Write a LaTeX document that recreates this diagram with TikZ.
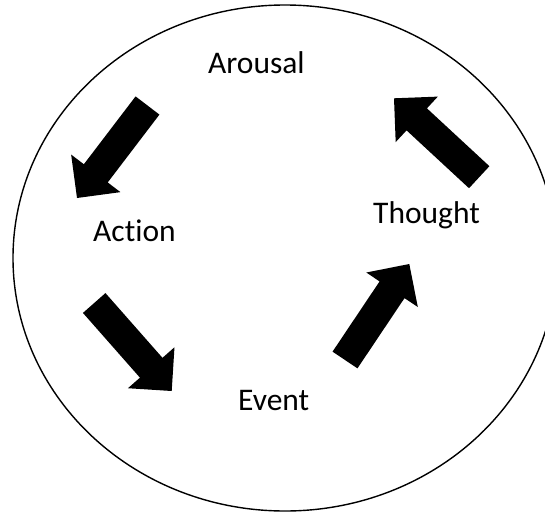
\documentclass[tikz,border=0pt]{standalone}
\usepackage{fontspec}
\setmainfont[Ligatures={NoCommon}]{Carlito}
\usetikzlibrary{calc}
\tikzset{
  lbl/.style={anchor=base west, inner sep=0pt, font=\fontsize{31.5}{36}\selectfont},
  ring/.style={draw=black, line width=1.4pt},
  blk/.style={fill=black}
}
\newcommand\blockarrow[1]{%
  \coordinate (#1-m) at ($(#1-h)!31pt!(#1-t)$);
  \fill[blk] ($(#1-t)!15pt!90:(#1-h)$) -- ($(#1-m)!15pt!90:(#1-h)$) --
    ($(#1-m)!31pt!90:(#1-h)$) -- (#1-h) -- ($(#1-m)!31pt!-90:(#1-h)$) --
    ($(#1-m)!15pt!-90:(#1-h)$) -- ($(#1-t)!15pt!-90:(#1-h)$) -- cycle;}
\begin{document}
\begin{tikzpicture}[x=1pt,y=-1pt]
\useasboundingbox (0,0) rectangle (545,511);
\clip (0,0) rectangle (545,511);
\fill[white] (0,0) rectangle (545,511);
\draw[ring] (285,258) ellipse [x radius=272, y radius=253];
\node[lbl] (arousal) at (208,74) {Arousal};
\node[lbl] (action) at (93,241) {Action};
\node[lbl] (thought) at (373,223) {Thought};
\node[lbl] (event) at (238,410) {Event};
\coordinate (a1-t) at (147.5,105.5); \coordinate (a1-h) at (77,198);
\coordinate (a2-t) at (94.2,303);    \coordinate (a2-h) at (171.7,391);
\coordinate (a3-t) at (345,360);     \coordinate (a3-h) at (409.3,264);
\coordinate (a4-t) at (479.2,177.2); \coordinate (a4-h) at (394,98.3);
\blockarrow{a1}
\blockarrow{a2}
\blockarrow{a3}
\blockarrow{a4}
\end{tikzpicture}
\end{document}
